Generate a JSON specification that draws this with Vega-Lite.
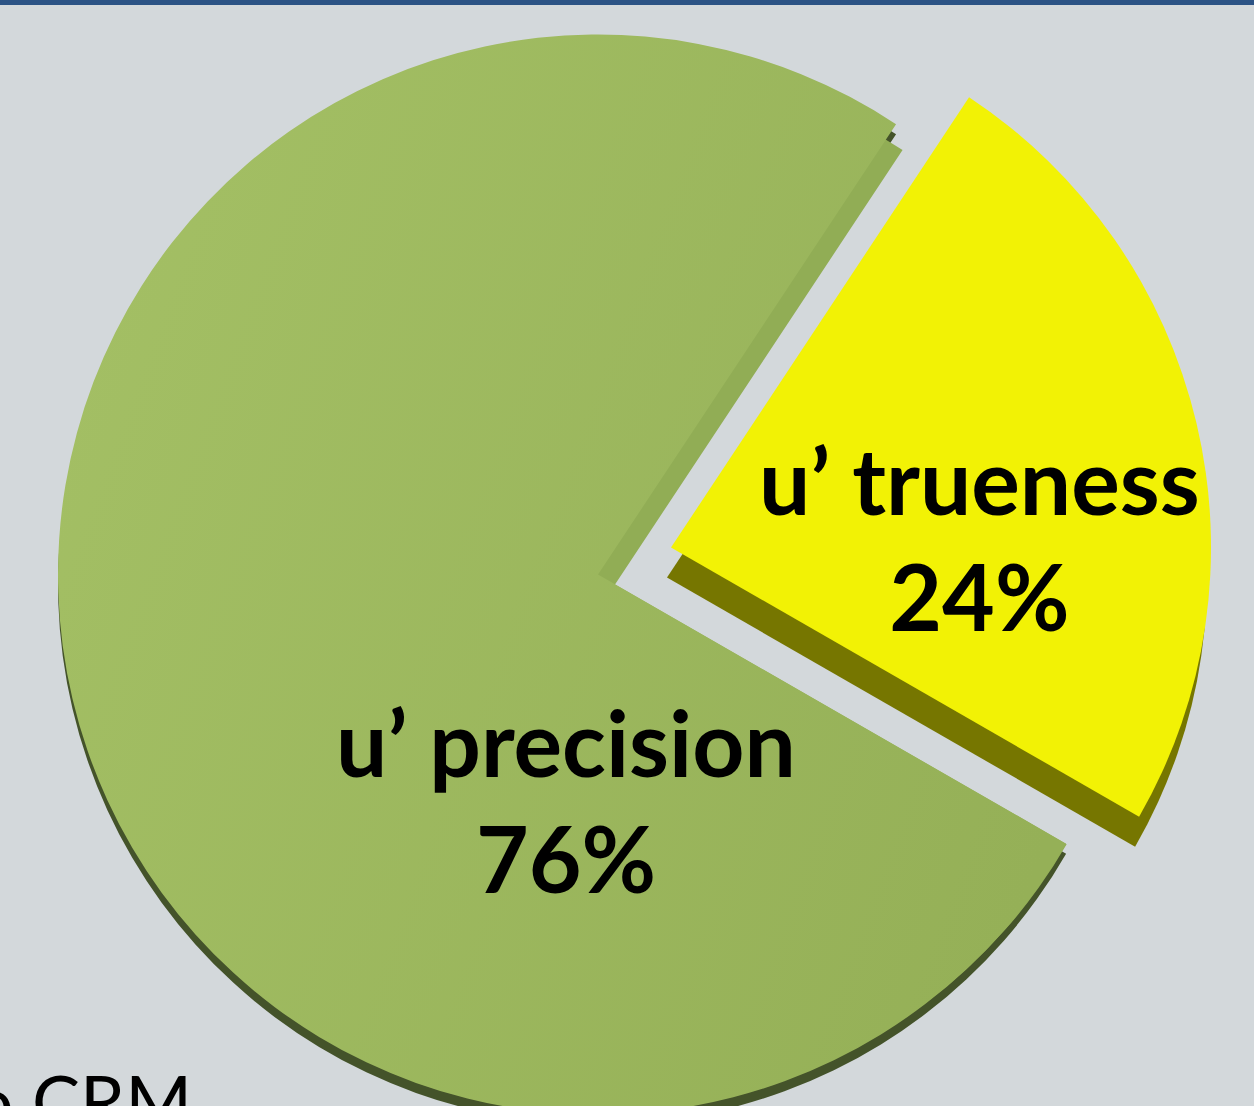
{
  "$schema": "https://vega.github.io/schema/vega-lite/v6.json",
  "width": 1254,
  "height": 1101,
  "autosize": {"type": "none"},
  "padding": {"top": 5, "left": 0, "right": 0, "bottom": 0},
  "background": "#2C5385",
  "view": {"fill": "#D3D8DB", "stroke": null},
  "config": {"view": {"fill": "#D3D8DB", "stroke": null}},
  "data": {
    "values": [
      {"id": "precision", "part": "u’ precision", "value": 76, "text": "u’ precision\n76%"},
      {"id": "trueness", "part": "u’ trueness", "value": 24, "text": "u’ trueness\n24%"}
    ]
  },
  "transform": [
    {"stack": "value", "groupby": [], "sort": [{"field": "value", "order": "ascending"}], "as": ["v0", "v1"]}
  ],
  "layer": [
    {
      "transform": [{"filter": "datum.id === 'precision'"}],
      "mark": {"type": "arc", "innerRadius": 470, "outerRadius": 540, "xOffset": -29, "yOffset": 29, "fill": "#44532A"},
      "encoding": {
        "theta": {"field": "v0", "type": "quantitative", "stack": null, "scale": {"domain": [0, 100], "range": [0.5847, 6.8679]}},
        "theta2": {"field": "v1"}
      }
    },
    {
      "transform": [{"filter": "datum.id === 'precision'"}],
      "mark": {"type": "arc", "outerRadius": 521, "xOffset": -12, "yOffset": 29, "fill": "#91AD55"},
      "encoding": {
        "theta": {"field": "v0", "type": "quantitative", "stack": null},
        "theta2": {"field": "v1"}
      }
    },
    {
      "transform": [{"filter": "datum.id === 'trueness'"}],
      "mark": {"type": "arc", "outerRadius": 540, "xOffset": 40, "yOffset": 22, "fill": "#767600"},
      "encoding": {
        "theta": {"field": "v0", "type": "quantitative", "stack": null},
        "theta2": {"field": "v1"}
      }
    },
    {
      "transform": [{"filter": "datum.id === 'precision'"}],
      "mark": {
        "type": "arc", "outerRadius": 540, "xOffset": -29, "yOffset": 19,
        "fill": {"gradient": "linear", "x1": 0, "y1": 0.3, "x2": 1, "y2": 0.7, "stops": [{"offset": 0, "color": "#A3BF64"}, {"offset": 1, "color": "#95B057"}]}
      },
      "encoding": {
        "theta": {"field": "v0", "type": "quantitative", "stack": null},
        "theta2": {"field": "v1"}
      }
    },
    {
      "transform": [{"filter": "datum.id === 'trueness'"}],
      "mark": {"type": "arc", "outerRadius": 540, "xOffset": 44, "yOffset": -8, "fill": "#F2F205"},
      "encoding": {
        "theta": {"field": "v0", "type": "quantitative", "stack": null},
        "theta2": {"field": "v1"}
      }
    },
    {
      "transform": [{"filter": "datum.id === 'precision'"}],
      "mark": {"type": "text", "font": "Lato", "fontWeight": "bold", "fontSize": 91, "lineHeight": 116, "lineBreak": "\n", "align": "center", "baseline": "middle", "color": "#000000", "radius": 178, "thetaOffset": 1.23, "xOffset": -29, "yOffset": 19},
      "encoding": {
        "theta": {"field": "v0", "type": "quantitative", "stack": null},
        "text": {"field": "text"}
      }
    },
    {
      "transform": [{"filter": "datum.id === 'trueness'"}],
      "mark": {"type": "text", "font": "Lato", "fontWeight": "bold", "fontSize": 91, "lineHeight": 116, "lineBreak": "\n", "align": "center", "baseline": "middle", "color": "#000000", "radius": 314, "thetaOffset": 0.797, "xOffset": 44, "yOffset": -8},
      "encoding": {
        "theta": {"field": "v0", "type": "quantitative", "stack": null},
        "text": {"field": "text"}
      }
    },
    {
      "data": {"values": [{"note": "o CRM"}]},
      "mark": {"type": "text", "font": "Lato", "fontSize": 72, "align": "right", "baseline": "alphabetic", "color": "#000000", "xOffset": -435, "yOffset": 572},
      "encoding": {"text": {"field": "note"}}
    }
  ]
}
